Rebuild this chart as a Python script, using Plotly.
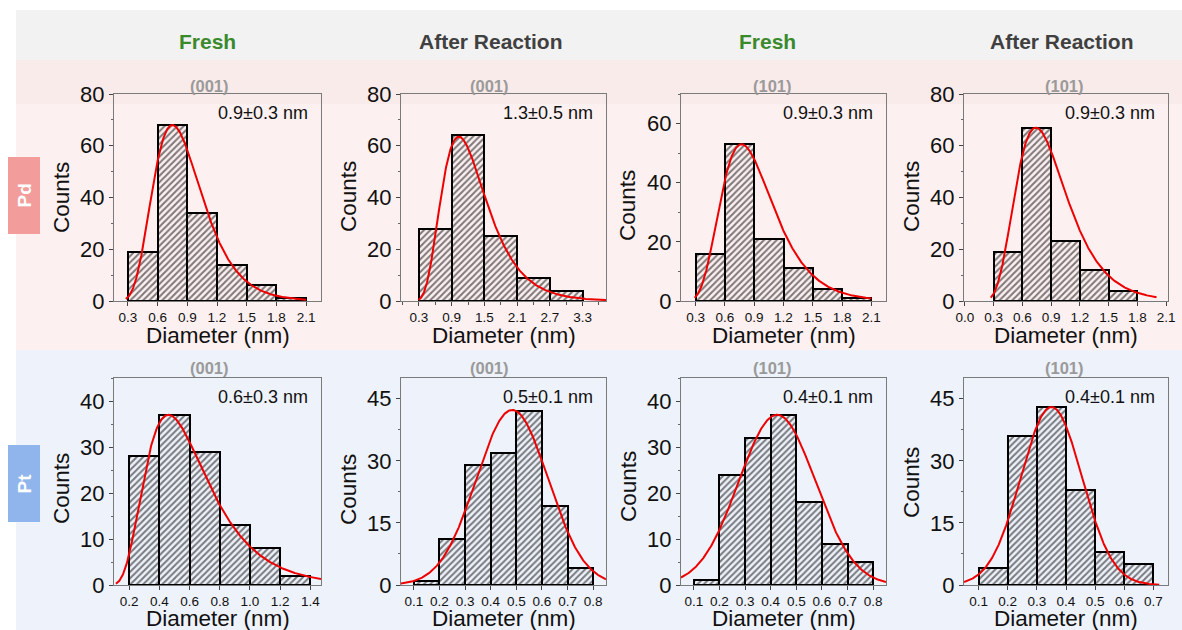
import numpy as np
import plotly.graph_objects as go

W, H = 1182, 630

# ---- histogram data: bin edges (nm) and counts ----
pd_fresh_001_edges = [0.3, 0.6, 0.9, 1.2, 1.5, 1.8, 2.1]
pd_fresh_001_counts = [19, 68, 34, 14, 6, 1]

pd_after_001_edges = [0.3, 0.9, 1.5, 2.1, 2.7, 3.3]
pd_after_001_counts = [28, 64, 25, 9, 4]

pd_fresh_101_edges = [0.3, 0.6, 0.9, 1.2, 1.5, 1.8, 2.1]
pd_fresh_101_counts = [16, 53, 21, 11, 4, 1]

pd_after_101_edges = [0.3, 0.6, 0.9, 1.2, 1.5, 1.8]
pd_after_101_counts = [19, 67, 23, 12, 4]

pt_fresh_001_edges = [0.2, 0.4, 0.6, 0.8, 1.0, 1.2, 1.4]
pt_fresh_001_counts = [28, 37, 29, 13, 8, 2]

pt_after_001_edges = [0.1, 0.2, 0.3, 0.4, 0.5, 0.6, 0.7, 0.8]
pt_after_001_counts = [1, 11, 29, 32, 42, 19, 4]

pt_fresh_101_edges = [0.1, 0.2, 0.3, 0.4, 0.5, 0.6, 0.7, 0.8]
pt_fresh_101_counts = [1, 24, 32, 37, 18, 9, 5]

pt_after_101_edges = [0.1, 0.2, 0.3, 0.4, 0.5, 0.6, 0.7]
pt_after_101_counts = [4, 36, 43, 23, 8, 5]

# ---- fitted size distributions: (model, peak position, width, peak height, x from, x to) ----
pd_fresh_001_fit = ("lognormal", 0.75, 0.33, 68, 0.28, 2.1)
pd_after_001_fit = ("lognormal", 1.03, 0.40, 63.5, 0.29, 3.73)
pd_fresh_101_fit = ("lognormal", 0.77, 0.35, 53, 0.29, 2.1)
pd_after_101_fit = ("lognormal", 0.74, 0.36, 67, 0.27, 2.0)
pt_fresh_001_fit = ("lognormal", 0.46, 0.45, 37, 0.113, 1.47)
pt_after_001_fit = ("gauss", 0.484, 0.14, 42.3, 0.05, 0.85)
pt_fresh_101_fit = ("gauss", 0.425, 0.15, 37, 0.05, 0.85)
pt_after_101_fit = ("gauss", 0.35, 0.105, 43, 0.05, 0.72)

# mean size labels
size_labels = ["0.9±0.3 nm", "1.3±0.5 nm", "0.9±0.3 nm", "0.9±0.3 nm",
               "0.6±0.3 nm", "0.5±0.1 nm", "0.4±0.1 nm", "0.4±0.1 nm"]
facet_labels = ["(001)", "(001)", "(101)", "(101)", "(001)", "(001)", "(101)", "(101)"]
column_headers = ["Fresh", "After Reaction", "Fresh", "After Reaction"]
row_labels = ["Pd", "Pt"]

# ---- axis tick settings ----
x_ticks = [
    [0.3, 0.6, 0.9, 1.2, 1.5, 1.8, 2.1],
    [0.3, 0.9, 1.5, 2.1, 2.7, 3.3],
    [0.3, 0.6, 0.9, 1.2, 1.5, 1.8, 2.1],
    [0.0, 0.3, 0.6, 0.9, 1.2, 1.5, 1.8, 2.1],
    [0.2, 0.4, 0.6, 0.8, 1.0, 1.2, 1.4],
    [0.1, 0.2, 0.3, 0.4, 0.5, 0.6, 0.7, 0.8],
    [0.1, 0.2, 0.3, 0.4, 0.5, 0.6, 0.7, 0.8],
    [0.1, 0.2, 0.3, 0.4, 0.5, 0.6, 0.7],
]
x_minor = [None, 0.3, None, None, None, None, None, None]
y_ticks = [
    [0, 20, 40, 60, 80],
    [0, 20, 40, 60, 80],
    [0, 20, 40, 60],
    [0, 20, 40, 60, 80],
    [0, 10, 20, 30, 40],
    [0, 15, 30, 45],
    [0, 10, 20, 30, 40],
    [0, 15, 30, 45],
]
y_minor = [10, 10, 10, 10, 5, 7.5, 5, 7.5]
x_ranges = [[0.16, 2.25], [-0.03, 3.73], [0.15, 2.25], [-0.01, 2.12],
            [0.10, 1.47], [0.05, 0.85], [0.05, 0.85], [0.05, 0.75]]
y_ranges = [[0, 80], [0, 80], [0, 70], [0, 80], [0, 45], [0, 50], [0, 45], [0, 50]]

edges_all = [pd_fresh_001_edges, pd_after_001_edges, pd_fresh_101_edges, pd_after_101_edges,
             pt_fresh_001_edges, pt_after_001_edges, pt_fresh_101_edges, pt_after_101_edges]
counts_all = [pd_fresh_001_counts, pd_after_001_counts, pd_fresh_101_counts, pd_after_101_counts,
              pt_fresh_001_counts, pt_after_001_counts, pt_fresh_101_counts, pt_after_101_counts]
fits_all = [pd_fresh_001_fit, pd_after_001_fit, pd_fresh_101_fit, pd_after_101_fit,
            pt_fresh_001_fit, pt_after_001_fit, pt_fresh_101_fit, pt_after_101_fit]

# ---- page layout in pixels ----
col_px = [(114, 321), (401, 606), (681, 886), (964, 1168)]
row_px = [(94, 301), (378, 585)]
facet_x = [209, 489, 772, 1064]
facet_y = [86, 368]
header_x = [207, 491, 768, 1062]
counts_title_y = [198, 197, 206, 197, 489, 490, 487, 483]
diameter_title_y = [335, 618]

FONT = "Arial, Liberation Sans, sans-serif"
AX = "#7a7a7a"


def px_x(p):
    return p / W


def px_y(p):
    return 1 - p / H


def fit_curve(model, m, w, h, x0, x1):
    x = np.linspace(x0, x1, 400)
    if model == "lognormal":
        y = h * np.exp(-np.log(x / m) ** 2 / (2 * w ** 2))
    else:
        y = h * np.exp(-(x - m) ** 2 / (2 * w ** 2))
    return x, y


fig = go.Figure()
layout = {}
annotations = []
shapes = []

# page background bands
shapes += [
    dict(type="rect", xref="paper", yref="paper", x0=px_x(16), x1=1, y0=px_y(60), y1=px_y(10),
         fillcolor="#f2f2f2", line_width=0, layer="below"),
    dict(type="rect", xref="paper", yref="paper", x0=px_x(16), x1=1, y0=px_y(350), y1=px_y(60),
         fillcolor="#fcf0f0", line_width=0, layer="below"),
    dict(type="rect", xref="paper", yref="paper", x0=px_x(16), x1=1, y0=px_y(104), y1=px_y(60),
         fillcolor="#faebeb", line_width=0, layer="below"),
    dict(type="rect", xref="paper", yref="paper", x0=px_x(16), x1=1, y0=0, y1=px_y(350),
         fillcolor="#eef2fa", line_width=0, layer="below"),
    dict(type="rect", xref="paper", yref="paper", x0=px_x(8), x1=px_x(40), y0=px_y(234), y1=px_y(157),
         fillcolor="#f29c9c", line_width=0, layer="below"),
    dict(type="rect", xref="paper", yref="paper", x0=px_x(8), x1=px_x(40), y0=px_y(522), y1=px_y(445),
         fillcolor="#8fb5ec", line_width=0, layer="below"),
]

for i in range(8):
    r, c = divmod(i, 4)
    xa = "x" if i == 0 else f"x{i + 1}"
    ya = "y" if i == 0 else f"y{i + 1}"
    edges = edges_all[i]
    counts = counts_all[i]
    centers = [(edges[k] + edges[k + 1]) / 2 for k in range(len(counts))]
    widths = [edges[k + 1] - edges[k] for k in range(len(counts))]

    fig.add_trace(go.Bar(
        x=centers, y=counts, width=widths, xaxis=xa, yaxis=ya, showlegend=False,
        marker=dict(color="rgba(0,0,0,0)", line=dict(color="black", width=2),
                    pattern=dict(shape="/", fgcolor="#000", bgcolor="rgba(0,0,0,0)",
                                 size=4.5, solidity=0.45)),
    ))
    fx, fy = fit_curve(*fits_all[i])
    fig.add_trace(go.Scatter(x=fx, y=fy, mode="lines", xaxis=xa, yaxis=ya, showlegend=False,
                             line=dict(color="#ee0000", width=2)))

    cx0, cx1 = col_px[c]
    ry0, ry1 = row_px[r]
    xkey = "xaxis" if i == 0 else f"xaxis{i + 1}"
    ykey = "yaxis" if i == 0 else f"yaxis{i + 1}"
    xaxis = dict(
        domain=[px_x(cx0), px_x(cx1)], range=x_ranges[i], anchor=ya, automargin=False,
        showline=True, linecolor=AX, linewidth=1, mirror=True,
        ticks="outside", ticklen=4, tickcolor="#444", tickwidth=1,
        tickvals=x_ticks[i], ticktext=[f"{v:.1f}" for v in x_ticks[i]],
        tickfont=dict(family=FONT, size=13.5, color="#111"),
        showgrid=False, zeroline=False, fixedrange=True,
    )
    if x_minor[i]:
        xaxis["minor"] = dict(dtick=x_minor[i], tick0=x_ticks[i][0], ticks="outside",
                              ticklen=3, tickcolor="#555")
    layout[xkey] = xaxis
    layout[ykey] = dict(
        domain=[px_y(ry1), px_y(ry0)], range=y_ranges[i], anchor=xa, automargin=False,
        showline=True, linecolor=AX, linewidth=1, mirror=True,
        ticks="outside", ticklen=4, tickcolor="#444", tickwidth=1,
        tickvals=y_ticks[i], ticktext=[str(v) for v in y_ticks[i]],
        minor=dict(dtick=y_minor[i], tick0=0, ticks="outside", ticklen=2, tickcolor="#666"),
        tickfont=dict(family=FONT, size=22, color="#111"),
        showgrid=False, zeroline=False, fixedrange=True,
    )

    # axis titles
    annotations.append(dict(text="Diameter (nm)", xref="paper", yref="paper",
                            x=px_x((cx0 + cx1) / 2), y=px_y(diameter_title_y[r]), showarrow=False,
                            xanchor="center", yanchor="middle",
                            font=dict(family=FONT, size=22.5, color="#111")))
    annotations.append(dict(text="Counts", xref="paper", yref="paper",
                            x=px_x(cx0 - 53), y=px_y(counts_title_y[i]), showarrow=False,
                            textangle=-90, xanchor="center", yanchor="middle",
                            font=dict(family=FONT, size=22.5, color="#111")))
    # mean size
    annotations.append(dict(text=size_labels[i], xref="paper", yref="paper",
                            x=px_x(cx1 - 11), y=px_y(ry0 + 19), showarrow=False,
                            xanchor="right", yanchor="middle",
                            font=dict(family=FONT, size=18, color="#111")))
    # facet label
    annotations.append(dict(text=f"<b>{facet_labels[i]}</b>", xref="paper", yref="paper",
                            x=px_x(facet_x[c]), y=px_y(facet_y[r]), showarrow=False,
                            xanchor="center", yanchor="middle",
                            font=dict(family=FONT, size=16.5, color="#9a9a9a")))

header_colors = ["#3a8a2c", "#404040", "#3a8a2c", "#404040"]
for c in range(4):
    annotations.append(dict(text=f"<b>{column_headers[c]}</b>", xref="paper", yref="paper",
                            x=px_x(header_x[c]), y=px_y(42), showarrow=False,
                            xanchor="center", yanchor="middle",
                            font=dict(family=FONT, size=21, color=header_colors[c])))

for r, yc in enumerate([195.5, 483.5]):
    annotations.append(dict(text=f"<b>{row_labels[r]}</b>", xref="paper", yref="paper",
                            x=px_x(24), y=px_y(yc), showarrow=False, textangle=-90,
                            xanchor="center", yanchor="middle",
                            font=dict(family=FONT, size=19, color="white")))

fig.update_layout(
    width=W, height=H, margin=dict(l=0, r=0, t=0, b=0, pad=0),
    paper_bgcolor="white", plot_bgcolor="rgba(0,0,0,0)",
    barmode="overlay", bargap=0,
    annotations=annotations, shapes=shapes, showlegend=False,
    **layout,
)

fig.write_html(
    "out.html",
    post_script="document.body.style.margin='0';document.body.style.overflow='hidden';",
)
